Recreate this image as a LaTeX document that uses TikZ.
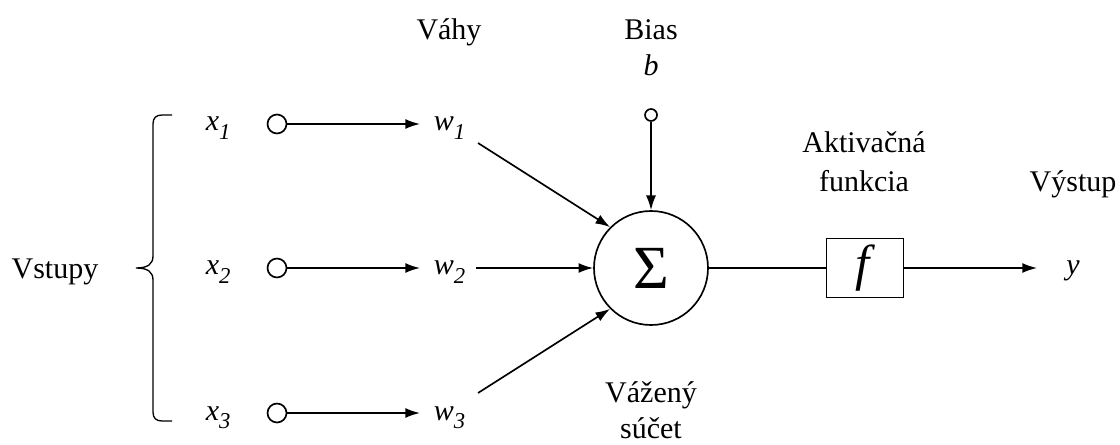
\documentclass[tikz,border=0pt]{standalone}
\usepackage{fontspec}
\setmainfont{Liberation Serif}
\usetikzlibrary{arrows.meta}
\newcommand\vsub[2]{\textit{#1}\raisebox{-0.27em}{\fontsize{17}{17}\selectfont\textit{#2}}}
\begin{document}
\begin{tikzpicture}[x=0.75pt,y=-0.75pt,
  font=\fontsize{22.5}{27}\selectfont,
  line width=1.25pt,
  arr/.style={-{Latex[length=11pt,width=7.5pt]}},
  port/.style={circle,draw,minimum size=14.25pt,inner sep=0pt},
  smallport/.style={circle,draw,minimum size=9pt,inner sep=0pt},
  lbl/.style={inner sep=0pt,anchor=base},
  inlbl/.style={inner sep=0pt,anchor=base west},
  wlbl/.style={inner xsep=9.75pt,inner ysep=0pt,anchor=base west}]
\useasboundingbox (0,0) rectangle (1120,445);

% labels
\node[lbl] (vst) at (55,278) {Vstupy};
\node[lbl] (vahy) at (449,40) {Váhy};
\node[lbl] (bias) at (651,40) {Bias};
\node[lbl] (b) at (651,76) {\textit{b}};
\node[lbl] (akt) at (864,153) {Aktivačná};
\node[lbl] (fun) at (864,192) {funkcia};
\node[lbl] (vys) at (1073,192) {Výstup};
\node[lbl] (vaz) at (651,402) {Vážený};
\node[lbl] (suc) at (651,438) {súčet};

% brace
\draw[line width=1pt] (172,115) -- (162,115) .. controls (156,115) and (153,118) .. (153,124)
  -- (153,256) .. controls (153,264) and (148,268) .. (136,268)
  .. controls (148,268) and (153,272) .. (153,280)
  -- (153,412) .. controls (153,418) and (156,421) .. (162,421) -- (172,421);

% inputs
\foreach \i/\r in {1/124,2/268,3/413}{
  \node[inlbl] (x\i) at (205,\r+7) {\vsub{x}{\i}};
  \node[port] (p\i) at (277,\r) {};
  \node[wlbl] (w\i) at (420,\r+7) {\vsub{w}{\i}};
  \draw[arr] (p\i) -- (w\i.west |- p\i);
}

% summation
\node[circle,draw,minimum size=85.5pt,inner sep=0pt] (sum) at (651,268) {\fontsize{46}{46}\selectfont Σ};
\coordinate (d1) at (478,143);
\coordinate (d2) at (476,268);
\coordinate (d3) at (478,393);
\draw[arr] (d1) -- (sum.135);
\draw[arr] (d2) -- (sum.west);
\draw[arr] (d3) -- (sum.225);

% bias
\node[smallport] (bp) at (651,115) {};
\draw[arr] (bp) -- (sum);

% activation
\node[draw,minimum width=57.75pt,minimum height=44.25pt,inner sep=0pt] (fbox) at (865,268) {\fontsize{38}{38}\selectfont\textit{f}};
\draw (sum) -- (fbox);
\coordinate (tip) at (1037,268);
\draw[arr] (fbox) -- (tip);
\node[lbl] (yout) at (1073,275) {\textit{y}};
\end{tikzpicture}
\end{document}
